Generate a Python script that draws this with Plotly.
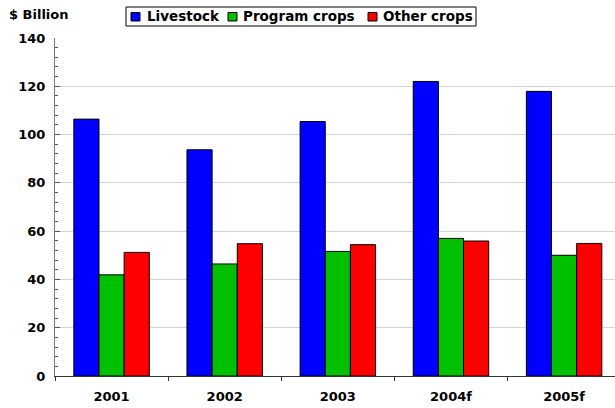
import plotly.graph_objects as go

# Farm cash receipts, $ billion
years = ["2001", "2002", "2003", "2004f", "2005f"]
livestock = [106.4, 93.7, 105.4, 122.0, 117.9]
program_crops = [41.9, 46.4, 51.6, 57.0, 50.0]
other_crops = [51.2, 54.8, 54.4, 55.9, 54.9]
y_ticks = [0, 20, 40, 60, 80, 100, 120, 140]

series = [
    ("Livestock", livestock, "#0000ff"),
    ("Program crops", program_crops, "#00c000"),
    ("Other crops", other_crops, "#ff0000"),
]

W, H = 615, 408
M_L, M_R, M_T, M_B = 55, 0, 38, 32


def px(x):
    return (x - M_L) / (W - M_L - M_R)


def py(y):
    return (H - M_B - y) / (H - M_T - M_B)


font = dict(family="DejaVu Sans, sans-serif", size=13, color="#000000", weight="bold")
legend_font = dict(font, size=13.5)

fig = go.Figure()
for name, vals, color in series:
    fig.add_trace(go.Bar(
        x=years, y=vals, name=name,
        marker=dict(color=color, line=dict(color="#000000", width=1)),
    ))

# Boxed legend drawn across the top of the chart
shapes = [dict(type="rect", xref="paper", yref="paper",
               x0=px(126), x1=px(476), y0=py(26), y1=py(7),
               line=dict(color="#000000", width=1), fillcolor="white")]
annotations = []
legend_items = [(131, 145), (228, 241), (368, 381)]
for (sx, tx), (name, _, color) in zip(legend_items, series):
    shapes.append(dict(type="rect", xref="paper", yref="paper",
                       x0=px(sx), x1=px(sx + 9), y0=py(21), y1=py(12.5),
                       line=dict(color="#000000", width=1), fillcolor=color))
    annotations.append(dict(text=name, xref="paper", yref="paper",
                            x=px(tx), y=py(16.5), xanchor="left", yanchor="middle",
                            showarrow=False, font=legend_font))

annotations.append(dict(text="$ Billion", xref="paper", yref="paper",
                        x=px(7), y=py(15), xanchor="left", yanchor="middle",
                        showarrow=False, font=font))

fig.update_layout(
    width=W, height=H,
    margin=dict(l=M_L, r=M_R, t=M_T, b=M_B),
    paper_bgcolor="white", plot_bgcolor="white",
    font=font,
    barmode="group", bargap=0.333, bargroupgap=0,
    showlegend=False,
    shapes=shapes,
    annotations=annotations,
)

fig.update_xaxes(
    type="category", range=[-0.5, 4.45],
    showline=True, linecolor="#333333", linewidth=1,
    ticks="outside", ticklen=4, tickcolor="#333333", tickson="boundaries",
    showgrid=False, tickfont=font, ticklabelstandoff=8,
)
fig.update_yaxes(
    range=[0, 140], tickvals=y_ticks,
    showline=True, linecolor="#777777", linewidth=1,
    ticks="inside", ticklen=5, tickcolor="#555555",
    showgrid=True, gridcolor="#d4d4d4", gridwidth=1,
    minor=dict(dtick=4, ticks="inside", ticklen=3, tickcolor="#555555", showgrid=False),
    tickfont=font, zeroline=False, ticklabelstandoff=6,
)

fig.write_html("out.html")
